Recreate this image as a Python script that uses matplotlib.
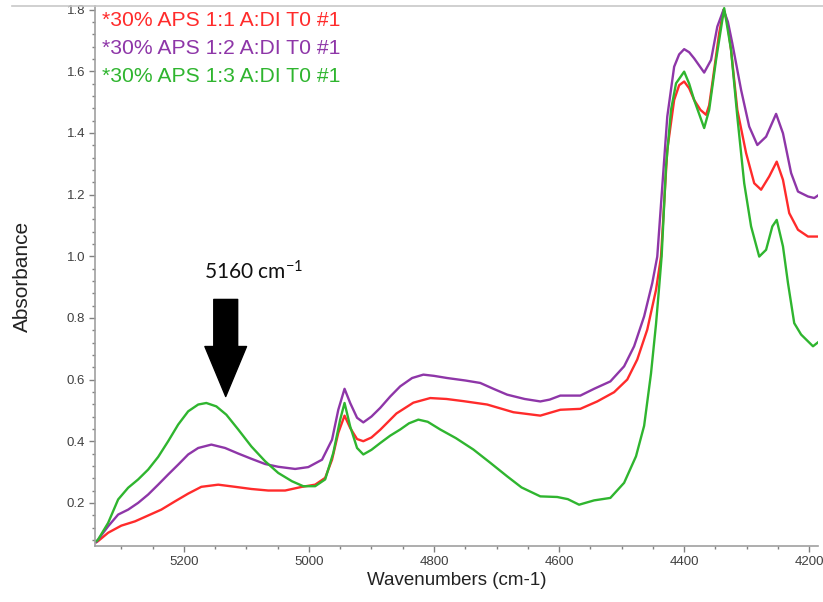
import matplotlib
matplotlib.use("Agg")
import matplotlib.pyplot as plt
from matplotlib.lines import Line2D
from matplotlib.ticker import MultipleLocator, AutoMinorLocator

plt.rcParams['font.family'] = ['Liberation Sans', 'DejaVu Sans']
plt.rcParams['mathtext.default'] = 'regular'

# spectra: wavenumber (cm-1) / absorbance
wn_11 = [5340, 5337, 5321, 5300, 5278, 5257, 5236, 5214, 5193, 5172, 5145, 5118, 5092, 5065,
         5038, 5011, 4990, 4974, 4963, 4953, 4943, 4934, 4923, 4913, 4900, 4886, 4860, 4833,
         4806, 4780, 4753, 4715, 4673, 4630, 4598, 4566, 4539, 4512, 4491, 4475, 4459, 4445,
         4437, 4427, 4416, 4408, 4400, 4392, 4384, 4374, 4365, 4360, 4355, 4344, 4337, 4331,
         4325, 4315, 4301, 4288, 4277, 4264, 4252, 4242, 4232, 4218, 4202, 4186]
ab_11 = [0.072, 0.076, 0.103, 0.126, 0.140, 0.159, 0.178, 0.205, 0.230, 0.252, 0.259, 0.252, 0.245, 0.240,
         0.240, 0.252, 0.259, 0.281, 0.340, 0.427, 0.483, 0.443, 0.407, 0.400, 0.412, 0.437, 0.490, 0.525,
         0.540, 0.537, 0.530, 0.519, 0.494, 0.483, 0.502, 0.505, 0.529, 0.559, 0.600, 0.665, 0.762, 0.891,
         0.999, 1.345, 1.507, 1.555, 1.567, 1.545, 1.507, 1.475, 1.459, 1.490, 1.561, 1.724, 1.800, 1.760,
         1.669, 1.475, 1.335, 1.237, 1.216, 1.259, 1.307, 1.248, 1.140, 1.086, 1.064, 1.064]

wn_12 = [5340, 5337, 5321, 5305, 5289, 5273, 5257, 5241, 5225, 5209, 5193, 5177, 5156, 5134,
         5113, 5092, 5070, 5049, 5022, 5001, 4979, 4963, 4953, 4943, 4934, 4923, 4913, 4900,
         4886, 4870, 4854, 4835, 4817, 4800, 4779, 4750, 4726, 4705, 4683, 4655, 4630, 4615,
         4598, 4566, 4544, 4518, 4496, 4480, 4464, 4451, 4443, 4427, 4416, 4408, 4400, 4392,
         4384, 4368, 4357, 4347, 4337, 4330, 4323, 4309, 4296, 4283, 4269, 4253, 4242, 4229,
         4218, 4202, 4192, 4184]
ab_12 = [0.072, 0.081, 0.124, 0.162, 0.178, 0.200, 0.227, 0.259, 0.292, 0.324, 0.357, 0.378, 0.389, 0.378,
         0.360, 0.343, 0.326, 0.317, 0.310, 0.316, 0.340, 0.405, 0.502, 0.570, 0.524, 0.476, 0.461, 0.480,
         0.508, 0.545, 0.578, 0.605, 0.616, 0.612, 0.605, 0.597, 0.589, 0.570, 0.551, 0.537, 0.529, 0.535,
         0.548, 0.548, 0.570, 0.594, 0.643, 0.708, 0.805, 0.913, 0.999, 1.453, 1.615, 1.655, 1.672, 1.662,
         1.642, 1.596, 1.637, 1.745, 1.800, 1.760, 1.691, 1.540, 1.421, 1.361, 1.388, 1.462, 1.399, 1.270,
         1.210, 1.194, 1.189, 1.200]

wn_13 = [5340, 5337, 5321, 5305, 5289, 5273, 5257, 5241, 5225, 5209, 5193, 5177, 5164, 5148,
         5132, 5113, 5092, 5070, 5049, 5027, 5009, 4990, 4974, 4961, 4950, 4943, 4934, 4923,
         4913, 4900, 4886, 4870, 4854, 4840, 4825, 4810, 4790, 4765, 4737, 4710, 4683, 4660,
         4630, 4603, 4586, 4568, 4544, 4518, 4496, 4477, 4464, 4453, 4445, 4440, 4436, 4429,
         4421, 4413, 4400, 4392, 4384, 4368, 4360, 4349, 4336, 4325, 4315, 4304, 4293, 4280,
         4269, 4259, 4252, 4242, 4234, 4224, 4213, 4202, 4194, 4184]
ab_13 = [0.075, 0.081, 0.135, 0.211, 0.249, 0.276, 0.308, 0.349, 0.400, 0.454, 0.497, 0.519, 0.524, 0.513,
         0.486, 0.438, 0.383, 0.335, 0.297, 0.270, 0.254, 0.254, 0.276, 0.362, 0.470, 0.524, 0.448, 0.378,
         0.357, 0.372, 0.394, 0.418, 0.438, 0.458, 0.470, 0.463, 0.438, 0.410, 0.373, 0.330, 0.286, 0.250,
         0.221, 0.219, 0.212, 0.194, 0.208, 0.216, 0.265, 0.351, 0.450, 0.620, 0.780, 0.900, 1.000, 1.291,
         1.475, 1.561, 1.599, 1.560, 1.507, 1.416, 1.475, 1.637, 1.805, 1.669, 1.453, 1.237, 1.097, 0.999,
         1.021, 1.097, 1.118, 1.032, 0.913, 0.783, 0.746, 0.724, 0.708, 0.724]

labels = ["*30% APS 1:1 A:DI T0 #1", "*30% APS 1:2 A:DI T0 #1", "*30% APS 1:3 A:DI T0 #1"]
colors = ["#ff2b2b", "#8e36a8", "#2fb52f"]

fig = plt.figure(figsize=(8.23, 6.02), dpi=100)
ax = fig.add_axes([95 / 823, 1 - 546 / 602, 723 / 823, 540 / 602])

series = [(wn_11, ab_11), (wn_12, ab_12), (wn_13, ab_13)]
for (wn, ab), c in zip(series, colors):
    ax.plot(wn, ab, color=c, lw=1.7, solid_joinstyle='round', solid_capstyle='round')

ax.set_xlim(5342, 4186)
ax.set_ylim(0.06, 1.812)
ax.xaxis.set_major_locator(MultipleLocator(200))
ax.xaxis.set_minor_locator(AutoMinorLocator(4))
ax.yaxis.set_major_locator(MultipleLocator(0.2))
ax.yaxis.set_minor_locator(AutoMinorLocator(5))
ax.yaxis.set_major_formatter(plt.FormatStrFormatter('%.1f'))

for s in ['top', 'right']:
    ax.spines[s].set_visible(False)
for s in ['left', 'bottom']:
    ax.spines[s].set_color('#a0a0a0')
    ax.spines[s].set_linewidth(1.2)

ax.tick_params(which='major', length=4, width=1, color='#808080', labelsize=9.5,
               labelcolor='#404040', pad=3)
ax.tick_params(which='minor', length=2, width=1, color='#808080')

ax.set_xlabel("Wavenumbers (cm-1)", fontsize=13.5, color='#222222', labelpad=3)
ax.set_ylabel("Absorbance", fontsize=15, color='#222222', labelpad=25)

ys = [0.9728, 0.9217, 0.869]
for lab, c, y in zip(labels, colors, ys):
    ax.text(0.0097, y, lab, color=c, fontsize=15.2, transform=ax.transAxes,
            ha='left', va='center')

# marker for the 5160 cm-1 band
ax.annotate('', xy=(5133, 0.545), xytext=(5133, 0.86),
            arrowprops=dict(arrowstyle='simple,head_width=1.5,head_length=1.8,tail_width=0.86',
                            color='black', shrinkA=0, shrinkB=0, mutation_scale=20))
ax.text(5089, 0.95, "5160 cm$^{-1}$", fontsize=15, family='Lato', ha='center', va='center',
        color='#111111')

fig.add_artist(Line2D([12 / 823, 1], [1 - 6 / 602, 1 - 6 / 602], color='#c8c8c8', lw=1.2))

fig.savefig("out.png", dpi=100)
